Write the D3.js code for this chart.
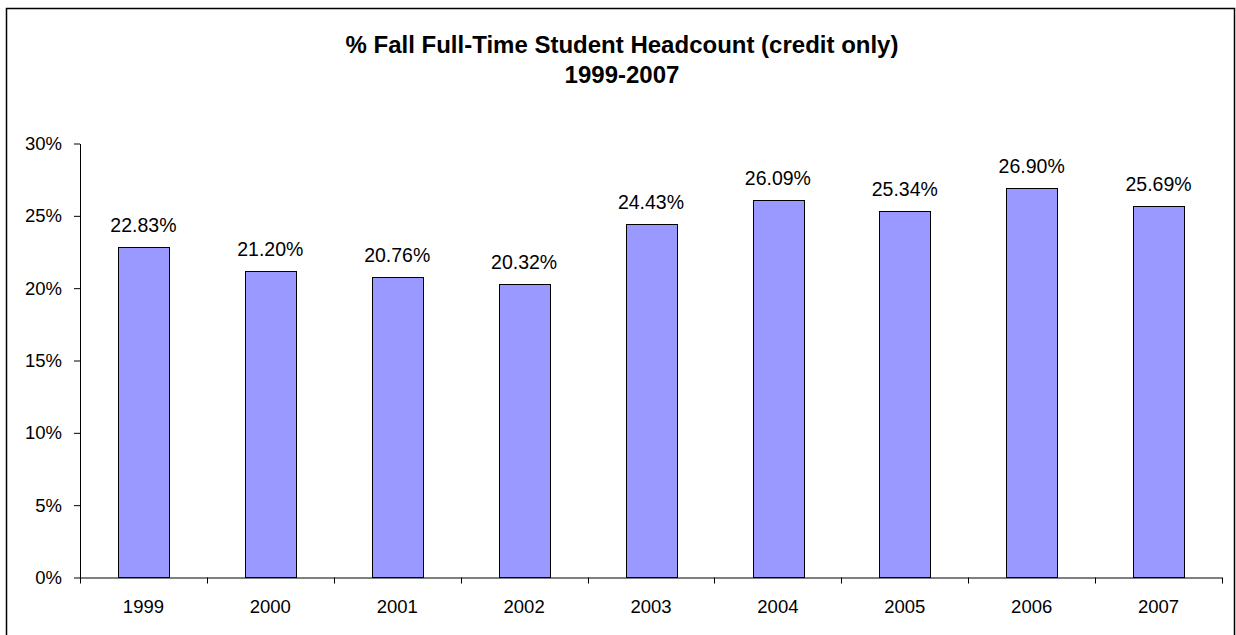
<!DOCTYPE html>
<html><head><meta charset="utf-8">
<script src="https://cdn.jsdelivr.net/npm/d3@7"></script>
<style>html,body{margin:0;padding:0;background:#fff;}svg{display:block;}</style>
</head><body>
<svg id="c" width="1236" height="635"></svg>
<script>
const categories = ["1999","2000","2001","2002","2003","2004","2005","2006","2007"];
const values = [22.83, 21.20, 20.76, 20.32, 24.43, 26.09, 25.34, 26.90, 25.69];
const yTicks = [0, 5, 10, 15, 20, 25, 30];
const titleLines = ["% Fall Full-Time Student Headcount (credit only)", "1999-2007"];

(function(){
const svg = d3.select("#c");
const font = "'Liberation Sans', Arial, sans-serif";
svg.append("rect").attr("x",6.5).attr("y",8.5).attr("width",1228).attr("height",640)
  .attr("fill","#fff").attr("stroke","#000").attr("stroke-width",1.5);

const pl = 80, pr = 1222, pt = 143.5, pb = 577.5;
const x = d3.scaleBand().domain(categories).range([pl, pr]).paddingInner(0).paddingOuter(0);
const y = d3.scaleLinear().domain([0, 30]).range([pb, pt]);

svg.append("g").selectAll("text").data(titleLines).join("text")
  .attr("x", 622).attr("y", (d,i) => 52.5 + i*30)
  .attr("text-anchor","middle").attr("font-family",font).attr("font-weight","bold")
  .attr("font-size",24).text(d=>d);

const bw = x.bandwidth()*0.4;
svg.append("g").selectAll("rect").data(values).join("rect")
  .attr("x",(d,i)=>Math.round(x(categories[i]) + x.bandwidth()/2 - bw/2)+0.5)
  .attr("y",d=>Math.round(y(d))+0.5)
  .attr("width",Math.round(bw))
  .attr("height",d=>pb - Math.round(y(d)) - 0.5)
  .attr("fill","#9999FF").attr("stroke","#000").attr("stroke-width",1);

svg.append("g").selectAll("text").data(values).join("text")
  .attr("x",(d,i)=>x(categories[i]) + x.bandwidth()/2)
  .attr("y",d=>y(d) - 15)
  .attr("text-anchor","middle").attr("font-family",font).attr("font-size",19.5)
  .text(d=>d.toFixed(2)+"%");

const yAxis = svg.append("g").attr("transform",`translate(${pl},0)`)
  .call(d3.axisLeft(y).tickValues(yTicks).tickFormat(d=>d+"%").tickSize(6).tickSizeOuter(0));
yAxis.select(".domain").attr("stroke","#000");
yAxis.selectAll("line").attr("stroke","#000");
yAxis.selectAll("text").attr("font-family",font).attr("font-size",18.5).attr("fill","#000").attr("x",-18);

const xAxis = svg.append("g").attr("transform",`translate(0,${pb})`)
  .call(d3.axisBottom(x).tickSize(0).tickSizeOuter(0));
xAxis.select(".domain").attr("stroke","#000").attr("d",`M${pl},0.5H${pr}`);
xAxis.selectAll("text").attr("font-family",font).attr("font-size",18.5).attr("fill","#000").attr("dy","0").attr("y",35);
const bounds = categories.map(c=>x(c)).concat([pr]);
svg.append("g").selectAll("line").data(bounds).join("line")
  .attr("x1",d=>Math.round(d)+0.5).attr("x2",d=>Math.round(d)+0.5)
  .attr("y1",pb).attr("y2",pb+6).attr("stroke","#000");
})();
</script>
</body></html>
